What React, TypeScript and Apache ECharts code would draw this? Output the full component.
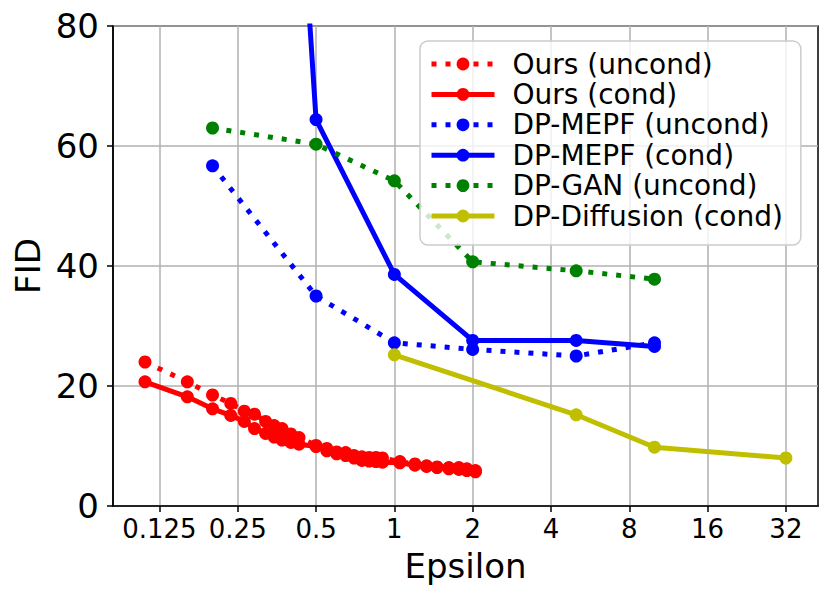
import React, { useEffect, useRef } from "react";
import * as echarts from "echarts";

// ---- data ----
const xTickValues = [0.125, 0.25, 0.5, 1, 2, 4, 8, 16, 32];
const xTickLabels = ["0.125", "0.25", "0.5", "1", "2", "4", "8", "16", "32"];
const yTickValues = [0, 20, 40, 60, 80];

const oursEps = [0.11, 0.16, 0.2, 0.235, 0.265, 0.29, 0.32, 0.345, 0.37, 0.4, 0.43, 0.5, 0.55, 0.6, 0.65, 0.7, 0.75, 0.8, 0.85, 0.9, 1.05, 1.2, 1.33, 1.46, 1.62, 1.77, 1.9, 2.05];
const oursUncondFid = [24.0, 20.7, 18.5, 17.1, 15.8, 15.3, 14.1, 13.4, 12.9, 12.0, 11.4, 10.1, 9.6, 9.0, 8.9, 8.4, 8.2, 8.1, 8.1, 8.0, 7.4, 7.0, 6.7, 6.5, 6.4, 6.4, 6.2, 5.9];
const oursCondFid = [20.7, 18.2, 16.2, 15.1, 14.1, 12.9, 12.1, 11.5, 11.0, 10.6, 10.3, 9.9, 9.2, 8.7, 8.4, 8.0, 7.6, 7.5, 7.4, 7.3, 7.2, 6.8, 6.6, 6.4, 6.2, 6.1, 5.9, 5.7];

const mepfUncondEps = [0.2, 0.5, 1, 2, 5, 10];
const mepfUncondFid = [56.7, 35.0, 27.2, 26.1, 25.0, 27.2];

const mepfCondEps = [0.2, 0.5, 1, 2, 5, 10];
const mepfCondFid = [330, 64.4, 38.6, 27.6, 27.6, 26.6];

const ganEps = [0.2, 0.5, 1, 2, 5, 10];
const ganFid = [63.0, 60.3, 54.2, 40.7, 39.2, 37.8];

const diffEps = [1, 5, 10, 32];
const diffFid = [25.2, 15.2, 9.8, 8.0];

const seriesNames = [
  "Ours (uncond)",
  "Ours (cond)",
  "DP-MEPF (uncond)",
  "DP-MEPF (cond)",
  "DP-GAN (uncond)",
  "DP-Diffusion (cond)",
];

// ---- style ----
const FONT = "DejaVu Sans";
const X_MIN_LOG = -3.593;
const X_MAX_LOG = 5.41;
const DOT: number[] = [5, 9];

function pairs(xs: number[], ys: number[]) {
  return xs.map((x, i) => [Math.log2(x), ys[i]]);
}

function mk(name: string, xs: number[], ys: number[], color: string, dotted: boolean) {
  return {
    name,
    type: "line",
    data: pairs(xs, ys),
    symbol: "circle",
    symbolSize: 13,
    clip: true,
    itemStyle: { color, borderWidth: 0 },
    lineStyle: { color, width: 5, type: dotted ? DOT : "solid", cap: "butt" },
    emphasis: { disabled: true },
  };
}

export default function App() {
  const ref = useRef<HTMLDivElement>(null);
  useEffect(() => {
    if (!ref.current) return;
    const chart = echarts.init(ref.current, null, { renderer: "svg" });
    const tickLogs = xTickValues.map((v) => Math.log2(v));
    chart.setOption({
      animation: false,
      grid: {
        left: 113,
        top: 26,
        width: 705,
        height: 480,
        show: true,
        borderColor: "#000",
        borderWidth: 1.5,
        backgroundColor: "transparent",
      },
      legend: {
        left: 420,
        top: 41,
        orient: "vertical",
        padding: [9, 18, 15, 9],
        itemWidth: 63,
        itemHeight: 16,
        itemGap: 2.4,
        backgroundColor: "rgba(255,255,255,0.8)",
        borderColor: "#cccccc",
        borderWidth: 1.5,
        borderRadius: 8,
        lineStyle: { width: 5, cap: "butt" },
        data: seriesNames,
        textStyle: { fontFamily: FONT, fontSize: 28, color: "#000", padding: [0, 0, 0, 13] },
      },
      xAxis: {
        type: "value",
        min: X_MIN_LOG,
        max: X_MAX_LOG,
        name: "Epsilon",
        nameLocation: "middle",
        nameGap: 43,
        nameTextStyle: { fontFamily: FONT, fontSize: 34, color: "#000" },
        axisLine: { show: true, onZero: false, lineStyle: { color: "#000", width: 1.5 } },
        axisTick: { show: true, length: 6, customValues: tickLogs, lineStyle: { color: "#000", width: 1.5 } },
        axisLabel: {
          customValues: tickLogs,
          fontFamily: FONT,
          fontSize: 26,
          color: "#000",
          margin: 10,
          formatter: (v: number) => {
            const i = tickLogs.findIndex((t) => Math.abs(t - v) < 1e-6);
            return i >= 0 ? xTickLabels[i] : "";
          },
        },
        splitLine: { show: true, lineStyle: { color: "#b0b0b0", width: 1.5 } },
      },
      yAxis: {
        type: "value",
        min: yTickValues[0],
        max: yTickValues[yTickValues.length - 1],
        interval: 20,
        name: "FID",
        nameLocation: "middle",
        nameGap: 64,
        nameRotate: 90,
        nameTextStyle: { fontFamily: FONT, fontSize: 34, color: "#000" },
        axisLine: { show: true, onZero: false, lineStyle: { color: "#000", width: 1.5 } },
        axisTick: { show: true, length: 6, lineStyle: { color: "#000", width: 1.5 } },
        axisLabel: { fontFamily: FONT, fontSize: 34, color: "#000", margin: 14 },
        splitLine: { show: true, lineStyle: { color: "#b0b0b0", width: 1.5 } },
      },
      series: [
        mk(seriesNames[0], oursEps, oursUncondFid, "#ff0000", true),
        mk(seriesNames[1], oursEps, oursCondFid, "#ff0000", false),
        mk(seriesNames[2], mepfUncondEps, mepfUncondFid, "#0000ff", true),
        mk(seriesNames[3], mepfCondEps, mepfCondFid, "#0000ff", false),
        mk(seriesNames[4], ganEps, ganFid, "#008000", true),
        mk(seriesNames[5], diffEps, diffFid, "#bfbf00", false),
      ],
    });
    return () => chart.dispose();
  }, []);
  return (
    <div
      ref={ref}
      style={{ position: "absolute", left: 0, top: 0, width: 830, height: 600, background: "#fff" }}
    />
  );
}
